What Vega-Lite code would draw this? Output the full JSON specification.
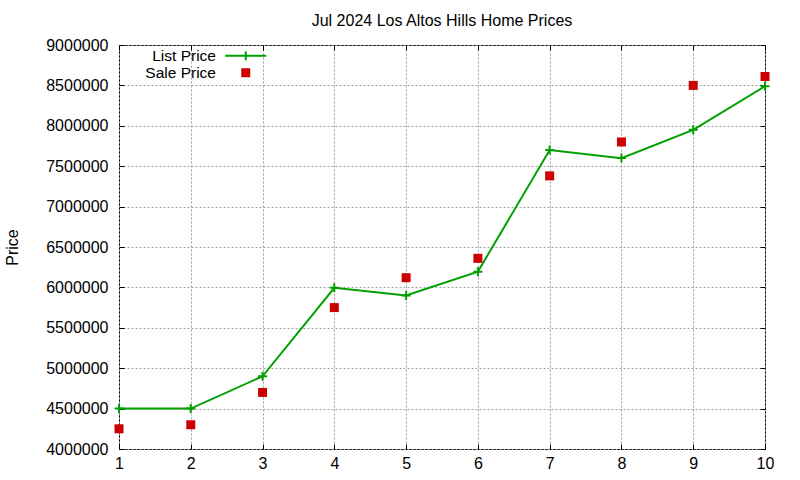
{
  "$schema": "https://vega.github.io/schema/vega-lite/v6.json",
  "width": 646,
  "height": 404,
  "autosize": "none",
  "padding": {"left": 119, "top": 45, "right": 35, "bottom": 31},
  "background": "white",
  "title": {
    "text": "Jul 2024 Los Altos Hills Home Prices",
    "font": "Liberation Sans",
    "fontSize": 16,
    "fontWeight": "normal",
    "color": "black",
    "anchor": "middle",
    "offset": 8
  },
  "config": {
    "view": {"stroke": "black", "strokeWidth": 1},
    "axis": {
      "labelFont": "Liberation Sans",
      "labelFontSize": 16,
      "labelColor": "black",
      "titleFont": "Liberation Sans",
      "titleFontSize": 16,
      "titleFontWeight": "normal",
      "titleColor": "black",
      "domain": false,
      "tickColor": "black",
      "tickSize": -5,
      "gridColor": "#a0a0a0",
      "gridDash": [2, 2],
      "gridOpacity": 1
    },
    "legend": {
      "labelFont": "Liberation Sans",
      "labelFontSize": 15.5,
      "labelColor": "black"
    }
  },
  "data": {
    "values": [
      {"x": 1, "series": "List Price", "price": 4500000},
      {"x": 2, "series": "List Price", "price": 4500000},
      {"x": 3, "series": "List Price", "price": 4900000},
      {"x": 4, "series": "List Price", "price": 5995000},
      {"x": 5, "series": "List Price", "price": 5900000},
      {"x": 6, "series": "List Price", "price": 6195000},
      {"x": 7, "series": "List Price", "price": 7700000},
      {"x": 8, "series": "List Price", "price": 7600000},
      {"x": 9, "series": "List Price", "price": 7950000},
      {"x": 10, "series": "List Price", "price": 8490000},
      {"x": 1, "series": "Sale Price", "price": 4250000},
      {"x": 2, "series": "Sale Price", "price": 4300000},
      {"x": 3, "series": "Sale Price", "price": 4700000},
      {"x": 4, "series": "Sale Price", "price": 5750000},
      {"x": 5, "series": "Sale Price", "price": 6120000},
      {"x": 6, "series": "Sale Price", "price": 6360000},
      {"x": 7, "series": "Sale Price", "price": 7380000},
      {"x": 8, "series": "Sale Price", "price": 7800000},
      {"x": 9, "series": "Sale Price", "price": 8500000},
      {"x": 10, "series": "Sale Price", "price": 8610000}
    ]
  },
  "layer": [
    {
      "encoding": {
        "x": {
          "field": "x",
          "type": "quantitative",
          "scale": {"domain": [1, 10], "nice": false, "zero": false},
          "axis": {
            "title": null,
            "values": [1, 2, 3, 4, 5, 6, 7, 8, 9, 10],
            "labelPadding": 11,
            "labelFlush": false
          }
        },
        "y": {
          "field": "price",
          "type": "quantitative",
          "scale": {"domain": [4000000, 9000000], "nice": false, "zero": false},
          "axis": {
            "title": "Price",
            "format": "d",
            "values": [4000000, 4500000, 5000000, 5500000, 6000000, 6500000, 7000000, 7500000, 8000000, 8500000, 9000000],
            "labelPadding": 16,
            "labelFlush": false,
            "titleX": -107,
            "titleY": 202,
            "titleAngle": -90,
            "titleBaseline": "middle",
            "titleAlign": "center"
          }
        }
      },
      "layer": [
        {
          "transform": [{"filter": "datum.series === 'List Price'"}],
          "mark": {"type": "line", "color": "#00a000", "strokeWidth": 2}
        },
        {
          "mark": {"type": "point", "filled": true, "opacity": 1, "size": 81},
          "encoding": {
            "color": {
              "field": "series",
              "type": "nominal",
              "scale": {"domain": ["List Price", "Sale Price"], "range": ["#00a000", "#cc0000"]},
              "legend": {
                "title": null,
                "orient": "none",
                "legendX": 119,
                "legendY": 3,
                "padding": 0,
                "rowPadding": 0,
                "symbolSize": 81,
                "symbolOpacity": 1,
                "encode": {
                  "symbols": {
                    "update": {
                      "shape": {"signal": "datum.value === 'List Price' ? 'M-4.56,-0.22H4.56V0.22H-4.56ZM-0.22,-1H0.22V1H-0.22Z' : 'M-1,-1H1V1H-1Z'"}
                    }
                  },
                  "labels": {
                    "update": {
                      "x": {"value": -22},
                      "align": {"value": "right"}
                    }
                  }
                }
              }
            },
            "shape": {
              "condition": {"test": "datum.series === 'List Price'", "value": "M-1,-0.22H1V0.22H-1ZM-0.22,-1H0.22V1H-0.22Z"},
              "value": "M-1,-1H1V1H-1Z"
            }
          }
        }
      ]
    },
    {
      "mark": {"type": "point", "opacity": 0},
      "encoding": {
        "x": {
          "field": "x",
          "type": "quantitative",
          "scale": {"domain": [1, 10], "nice": false, "zero": false},
          "axis": {"orient": "top", "title": null, "labels": false, "grid": false, "values": [1, 2, 3, 4, 5, 6, 7, 8, 9, 10]}
        },
        "y": {
          "field": "price",
          "type": "quantitative",
          "scale": {"domain": [4000000, 9000000], "nice": false, "zero": false},
          "axis": {"orient": "right", "title": null, "labels": false, "grid": false, "values": [4000000, 4500000, 5000000, 5500000, 6000000, 6500000, 7000000, 7500000, 8000000, 8500000, 9000000]}
        }
      }
    }
  ],
  "resolve": {"axis": {"x": "independent", "y": "independent"}}
}
